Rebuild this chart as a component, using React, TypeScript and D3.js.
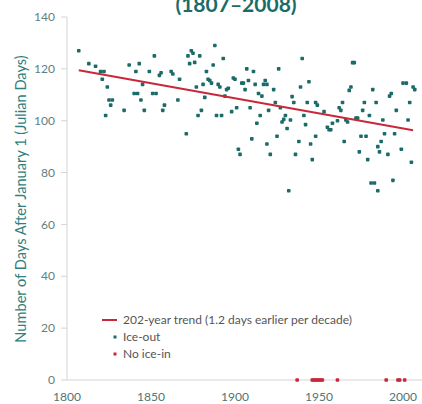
import React from "react";
import * as d3 from "d3";

const iceOutYears = [
  1807, 1813, 1817, 1820, 1822, 1821, 1824, 1823, 1825, 1827, 1826, 1834, 1837, 1841, 1843, 1840, 1842, 1844, 1845, 1846,
  1849, 1852, 1851, 1853, 1855, 1856, 1857, 1858, 1862, 1863, 1866, 1867, 1871, 1872, 1874, 1875, 1873, 1876, 1877, 1879,
  1878, 1880, 1882, 1881, 1883, 1884, 1885, 1886, 1887, 1888, 1889, 1892, 1890, 1891, 1893, 1894, 1895, 1896, 1898, 1899,
  1900, 1901, 1902, 1903, 1904, 1905, 1906, 1907, 1908, 1909, 1910, 1911, 1912, 1913, 1914, 1915, 1916, 1917, 1918, 1919,
  1919, 1920, 1921, 1923, 1924, 1925, 1926, 1927, 1928, 1929, 1930, 1931, 1932, 1933, 1934, 1935, 1936, 1938, 1939, 1940,
  1941, 1942, 1943, 1944, 1945, 1946, 1948, 1948, 1949, 1953, 1955, 1956, 1957, 1958, 1961, 1962, 1963, 1964, 1965, 1966,
  1967, 1968, 1969, 1970, 1971, 1972, 1973, 1974, 1975, 1976, 1977, 1978, 1979, 1980, 1981, 1982, 1983, 1984, 1985, 1985,
  1986, 1987, 1988, 1989, 1991, 1992, 1993, 1994, 1995, 1996, 1999, 2000, 2002, 2003, 2004, 2005, 2006, 2007,
];
const iceOutDays = [
  127, 122, 121, 119, 119, 116, 113, 102, 108, 108, 106, 104, 121.5, 119, 122, 110.5, 110.5, 108, 114, 104,
  119, 125, 110.5, 110.5, 117.5, 118.5, 104, 106, 119, 118, 108, 116, 95, 125, 127, 126, 122, 122.5, 113, 125,
  102, 104, 109, 114, 119, 116, 115.5, 114.5, 121.5, 129, 102, 102, 114, 113, 124, 109.5, 112, 112.5, 103.5, 116.5,
  116, 105, 89, 87, 114.5, 114.5, 112, 120, 115.5, 105, 93, 119, 114, 99, 110.5, 102, 109.5, 114, 115.5, 114,
  91, 104, 87, 112, 107, 94, 120, 105, 99.5, 100.5, 102, 97, 73, 100.3, 109.3, 107, 87, 92, 113, 124,
  102, 98.5, 107, 115, 91, 85, 94, 107, 106, 103.5, 97.5, 96.5, 96.5, 99, 100, 105, 104, 107, 92, 100.3,
  99.5, 111.7, 113, 122.4, 122.4, 101, 101, 88, 94, 104, 107, 94, 85, 102, 76, 112, 76, 107, 73, 90,
  88, 92, 100.3, 95, 87, 109.5, 110.5, 77, 95, 104, 89, 114.5, 114.5, 100.3, 107, 84, 113, 112,
];
const noIceInYears = [1937, 1946, 1947, 1948, 1949, 1950, 1951, 1952, 1961, 1990, 1997, 1998, 2001];
const trendYears = [1807, 2006];
const trendDays = [119.5, 96.3];
const xTicks = [1800, 1850, 1900, 1950, 2000];
const yTicks = [0, 20, 40, 60, 80, 100, 120, 140];
const titleText = "(1807–2008)";
const yAxisTitle = "Number of Days After January 1 (Julian Days)";
const legendLabels = ["202-year trend (1.2 days earlier per decade)", "Ice-out", "No ice-in"];

const W = 422;
const H = 404;
const FONT = "Lato, 'Open Sans', sans-serif";
const TEAL = "#1b6b68";
const RED = "#c9283a";

export default function App() {
  const x = d3.scaleLinear().domain([1800, 2010]).range([67, 419.8]);
  const y = d3.scaleLinear().domain([0, 140]).range([380, 17]);
  const line = d3
    .line<number>()
    .x((_, i) => x(trendYears[i]))
    .y((d) => y(d));
  const s = 3.6;

  return (
    <svg
      width={W}
      height={H}
      style={{ position: "absolute", left: 0, top: 0, background: "#fff" }}
      fontFamily={FONT}
    >
      <text x={236} y={12} textAnchor="middle" fontSize={21} fontWeight={700} fill={TEAL}>
        {titleText}
      </text>

      {/* axes */}
      <line x1={x(1800)} x2={x(1800)} y1={y(140)} y2={y(0)} stroke="#d4d4d4" strokeWidth={1} />
      <line x1={x(1800)} x2={W} y1={y(0)} y2={y(0)} stroke="#d4d4d4" strokeWidth={1} />
      {yTicks.map((t) => (
        <g key={t}>
          <line x1={x(1800) - 6} x2={x(1800)} y1={y(t)} y2={y(t)} stroke="#d4d4d4" />
          <text x={55} y={y(t)} dy="0.35em" textAnchor="end" fontSize={12} fill="#5f8080">
            {t}
          </text>
        </g>
      ))}
      {xTicks.map((t) => (
        <text key={t} x={x(t)} y={401} textAnchor="middle" fontSize={12} fill="#4f7574">
          {t}
        </text>
      ))}
      <text
        transform={`translate(26, ${199}) rotate(-90)`}
        textAnchor="middle"
        fontSize={14.6}
        fill="#2f7f7c"
      >
        {yAxisTitle}
      </text>

      {/* ice-out points */}
      {iceOutYears.map((yr, i) => (
        <rect
          key={i}
          x={x(yr) - s / 2}
          y={y(iceOutDays[i]) - s / 2}
          width={s}
          height={s}
          rx={0.8}
          fill={TEAL}
        />
      ))}

      {/* no ice-in points */}
      {noIceInYears.map((yr, i) => (
        <rect
          key={i}
          x={x(yr) - s / 2}
          y={y(0) - s / 2}
          width={s}
          height={s}
          rx={0.8}
          fill={RED}
        />
      ))}

      {/* trend */}
      <path d={line(trendDays) || ""} fill="none" stroke={RED} strokeWidth={2} />

      {/* legend */}
      <line x1={102} x2={117} y1={320} y2={320} stroke={RED} strokeWidth={2} />
      <text x={123} y={320} dy="0.35em" fontSize={12} fill="#555">
        {legendLabels[0]}
      </text>
      <rect x={115 - 1.5} y={337 - 1.5} width={3} height={3} fill={TEAL} />
      <text x={123} y={337} dy="0.35em" fontSize={12} fill="#555">
        {legendLabels[1]}
      </text>
      <rect x={115 - 1.5} y={354 - 1.5} width={3} height={3} fill={RED} />
      <text x={123} y={354} dy="0.35em" fontSize={12} fill="#555">
        {legendLabels[2]}
      </text>
    </svg>
  );
}
